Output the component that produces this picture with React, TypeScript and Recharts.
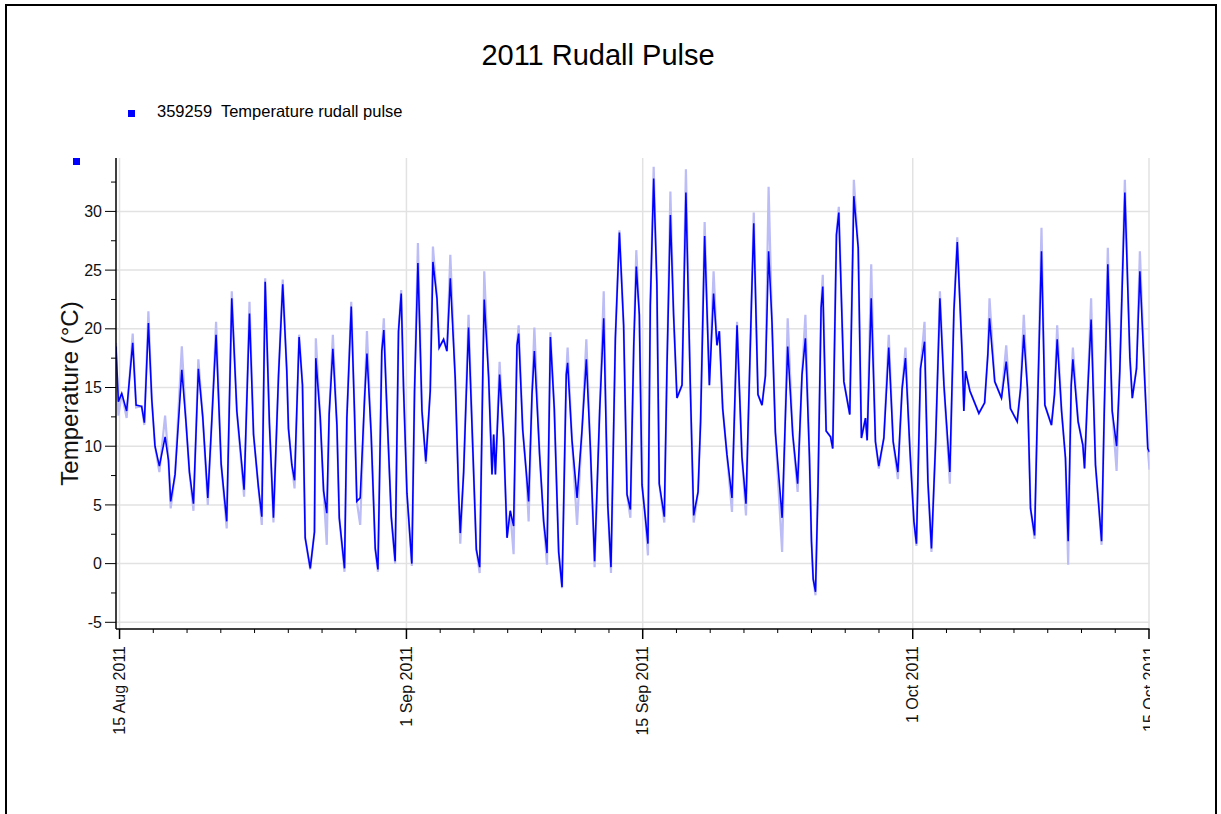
import React from "react";
import { LineChart, Line, XAxis, YAxis, CartesianGrid, Legend } from "recharts";

const FONT = '"Liberation Sans", Arial, Helvetica, sans-serif';

// time in days since 15 Aug 2011 00:00
const times = [
  -0.21, -0.07, 0.13, 0.42, 0.78, 0.98, 1.31, 1.47, 1.71, 1.91,
  2.1, 2.36, 2.7, 2.9, 3.03, 3.29, 3.69, 3.94, 4.14, 4.38,
  4.67, 4.93, 5.23, 5.46, 5.72, 6.02, 6.35, 6.65, 6.95, 7.38,
  7.7, 7.94, 8.23, 8.43, 8.63, 8.88, 9.12, 9.42, 9.67, 9.91,
  10.01, 10.21, 10.37, 10.64, 10.84, 11.0, 11.3, 11.55, 11.63, 11.89,
  12.09, 12.28, 12.42, 12.64, 12.88, 13.02, 13.33, 13.47, 13.73, 13.92,
  14.06, 14.26, 14.52, 14.66, 14.91, 15.15, 15.31, 15.54, 15.66, 15.84,
  16.1, 16.33, 16.53, 16.69, 16.83, 17.03, 17.32, 17.48, 17.68, 17.92,
  18.15, 18.41, 18.57, 18.81, 18.94, 19.2, 19.4, 19.6, 19.89, 20.09,
  20.19, 20.39, 20.68, 20.94, 21.14, 21.34, 21.53, 21.61, 21.87, 22.07,
  22.17, 22.27, 22.52, 22.76, 22.96, 23.15, 23.35, 23.55, 23.65, 23.89,
  24.1, 24.24, 24.44, 24.58, 24.89, 25.13, 25.33, 25.53, 25.76, 26.02,
  26.22, 26.47, 26.55, 26.81, 27.11, 27.4, 27.66, 27.9, 28.15, 28.45,
  28.69, 28.93, 29.12, 29.38, 29.62, 29.87, 30.07, 30.27, 30.47, 30.62,
  30.8, 30.96, 31.15, 31.31, 31.45, 31.65, 31.84, 31.98, 32.28, 32.44,
  32.64, 32.83, 33.03, 33.33, 33.56, 33.82, 34.02, 34.28, 34.43, 34.67,
  34.95, 35.2, 35.4, 35.54, 35.74, 35.99, 36.29, 36.59, 36.88, 37.12,
  37.44, 37.58, 37.83, 38.07, 38.27, 38.46, 38.66, 38.86, 39.26, 39.59,
  39.89, 40.18, 40.44, 40.64, 40.88, 41.0, 41.1, 41.24, 41.39, 41.57,
  41.67, 41.87, 42.13, 42.26, 42.48, 42.62, 42.92, 43.27, 43.51, 43.77,
  43.96, 44.2, 44.3, 44.54, 44.79, 44.99, 45.29, 45.58, 45.84, 46.12,
  46.37, 46.57, 46.83, 47.07, 47.22, 47.46, 47.7, 47.9, 48.11, 48.35,
  48.61, 48.85, 49.2, 49.44, 49.64, 49.93, 50.03, 50.13, 50.39, 50.92,
  51.26, 51.45, 51.55, 51.86, 52.26, 52.54, 52.79, 53.19, 53.39, 53.58,
  53.8, 53.98, 54.22, 54.37, 54.63, 54.83, 55.22, 55.4, 55.56, 55.82,
  56.05, 56.21, 56.39, 56.49, 56.8, 57.08, 57.18, 57.34, 57.57, 57.83,
  58.03, 58.19, 58.35, 58.56, 58.82, 59.08, 59.27, 59.57, 59.87, 60.01,
  60.26, 60.46, 60.76, 60.93, 61.03,
];

// 359259 Temperature rudall pulse (°C)
const temps = [
  18.5, 13.8, 14.5, 13.0, 18.8, 13.5, 13.4, 12.0, 20.5, 14.0,
  10.0, 8.3, 10.8, 8.8, 5.3, 7.6, 16.5, 12.0, 7.8, 5.1,
  16.6, 12.5, 5.6, 12.0, 19.5, 8.5, 3.6, 22.6, 13.0, 6.3,
  21.3, 11.0, 6.5, 4.0, 24.0, 12.0, 3.9, 16.0, 23.8, 16.4,
  11.5, 8.4, 7.1, 19.3, 15.2, 2.2, -0.4, 2.7, 17.5, 12.5,
  6.2, 4.3, 12.7, 18.3, 11.8, 3.9, -0.4, 12.4, 21.9, 13.0,
  5.3, 5.6, 14.1, 17.9, 11.0, 1.3, -0.5, 18.1, 19.9, 13.2,
  4.0, 0.2, 19.8, 23.0, 14.9, 6.0, 0.0, 14.7, 25.6, 13.0,
  8.7, 14.7, 25.7, 22.6, 18.4, 19.1, 18.1, 24.3, 15.8, 6.1,
  2.6, 7.8, 20.1, 9.5, 1.2, -0.3, 16.6, 22.5, 15.9, 7.6,
  11.0, 7.6, 16.1, 10.7, 2.2, 4.5, 3.2, 18.6, 19.6, 11.4,
  7.8, 5.3, 14.4, 18.1, 9.3, 3.6, 0.9, 19.3, 13.2, 1.0,
  -2.0, 16.1, 17.1, 10.5, 5.6, 11.3, 17.4, 9.8, 0.2, 13.0,
  20.9, 5.0, -0.3, 19.2, 28.2, 20.3, 5.9, 4.6, 18.6, 25.3,
  21.2, 6.7, 4.0, 1.7, 22.0, 32.8, 23.8, 6.8, 4.0, 16.9,
  29.7, 21.2, 14.1, 15.2, 31.6, 15.2, 4.1, 6.1, 12.1, 27.9,
  15.2, 23.0, 18.6, 19.8, 13.2, 9.3, 5.6, 20.3, 9.1, 5.1,
  22.0, 29.0, 14.4, 13.5, 16.0, 26.6, 20.6, 11.2, 3.9, 18.5,
  11.0, 6.8, 16.1, 19.2, 9.1, 1.9, -1.3, -2.4, 6.7, 21.8,
  23.6, 11.3, 10.8, 9.8, 28.0, 29.9, 15.5, 12.7, 31.3, 26.9,
  10.7, 12.4, 10.5, 22.6, 10.4, 8.3, 10.7, 18.4, 10.4, 7.8,
  14.9, 17.5, 9.8, 3.6, 1.7, 16.6, 18.9, 7.0, 1.3, 10.1,
  22.6, 15.2, 7.8, 21.5, 27.4, 17.8, 13.0, 16.4, 14.7, 12.8,
  13.7, 17.8, 20.9, 15.5, 14.1, 17.2, 13.2, 12.1, 14.9, 19.5,
  14.9, 4.7, 2.4, 11.8, 26.6, 13.5, 11.8, 14.4, 19.1, 13.0,
  9.0, 1.9, 15.2, 17.4, 12.1, 10.1, 8.1, 13.8, 20.8, 8.4,
  4.8, 1.9, 13.0, 25.5, 13.0, 10.0, 16.4, 31.6, 17.5, 14.1,
  16.6, 24.9, 15.2, 9.8, 9.5,
];

// the pale trace behind it (sub-hourly readings, reaching further at the extremes)
const tempsRaw = [
  18.8, 12.6, 14.5, 12.4, 19.6, 13.3, 13.4, 11.8, 21.5, 14.0,
  10.0, 7.8, 12.6, 8.8, 4.7, 7.6, 18.5, 12.0, 7.8, 4.5,
  17.4, 12.5, 5.0, 12.0, 20.6, 8.5, 3.0, 23.2, 13.0, 5.7,
  22.3, 11.0, 6.5, 3.3, 24.3, 12.0, 3.5, 16.0, 24.2, 16.4,
  11.5, 8.4, 6.4, 19.5, 15.2, 2.2, -0.5, 2.7, 19.2, 12.5,
  6.2, 1.6, 12.7, 19.5, 11.8, 3.9, -0.7, 12.4, 22.3, 13.0,
  5.3, 3.3, 14.1, 19.8, 11.0, 1.3, -0.7, 18.1, 20.9, 13.2,
  4.0, 0.0, 19.8, 23.3, 14.9, 6.0, -0.2, 14.7, 27.3, 13.0,
  8.5, 14.7, 27.0, 22.6, 18.4, 19.1, 18.1, 26.3, 15.8, 6.1,
  1.7, 7.8, 21.2, 9.5, 1.2, -0.8, 16.6, 24.9, 15.9, 7.6,
  11.0, 7.6, 17.2, 10.7, 2.2, 4.5, 0.8, 18.6, 20.3, 11.4,
  7.8, 3.6, 14.4, 20.1, 9.3, 3.6, -0.1, 19.7, 13.2, 1.0,
  -2.1, 16.1, 18.4, 10.5, 3.3, 11.3, 19.1, 9.8, -0.3, 13.0,
  23.2, 5.0, -0.8, 19.2, 28.4, 20.3, 5.9, 3.9, 18.6, 26.7,
  21.2, 6.7, 4.0, 0.7, 22.0, 33.8, 23.8, 6.8, 3.5, 16.9,
  31.7, 21.2, 14.1, 15.2, 33.6, 15.2, 3.5, 6.1, 12.1, 29.1,
  15.2, 24.9, 18.6, 19.8, 13.2, 9.3, 4.4, 20.6, 9.1, 4.1,
  22.0, 29.9, 14.4, 13.5, 16.0, 32.1, 20.6, 11.2, 1.0, 20.9,
  11.0, 6.1, 16.1, 21.2, 9.1, 1.9, -1.3, -2.7, 6.7, 21.8,
  24.6, 11.3, 10.8, 9.8, 28.0, 30.4, 15.5, 12.7, 32.7, 26.9,
  10.7, 12.4, 10.5, 25.5, 10.4, 8.1, 10.7, 19.5, 10.4, 7.2,
  14.9, 18.4, 9.8, 3.6, 1.5, 16.6, 20.6, 7.0, 1.0, 10.1,
  23.2, 15.2, 6.8, 21.5, 27.8, 17.8, 13.0, 16.4, 14.7, 12.8,
  13.7, 17.8, 22.6, 15.5, 14.1, 18.6, 13.2, 12.1, 14.9, 21.2,
  14.9, 4.7, 2.1, 11.8, 28.6, 13.5, 11.8, 14.4, 20.3, 13.0,
  9.0, -0.1, 15.2, 18.4, 12.1, 10.1, 8.1, 13.8, 22.6, 8.4,
  4.8, 1.6, 13.0, 26.9, 13.0, 7.9, 16.4, 32.7, 17.5, 14.1,
  16.6, 26.6, 15.2, 9.8, 8.0,
];

const majorDays = [0, 17, 31, 47, 61];
const majorLabels = ["15 Aug 2011", "1 Sep 2011", "15 Sep 2011", "1 Oct 2011", "15 Oct 2011"];
const minorDays = [
  2, 4, 6, 8, 10, 12, 14, 19, 21, 23, 25, 27, 29,
  33, 35, 37, 39, 41, 43, 45, 49, 51, 53, 55, 57, 59,
];
const xTicks = [...majorDays, ...minorDays].sort((a, b) => a - b);

const yMajor = [-5, 0, 5, 10, 15, 20, 25, 30];
const yMinor = [-2.5, 2.5, 7.5, 12.5, 17.5, 22.5, 27.5, 32.5];
const yTicks = [...yMajor, ...yMinor].sort((a, b) => a - b);

const data = times.map((t, i) => ({ t, temp: temps[i], raw: tempsRaw[i] }));

const XTick = (props: any) => {
  const { x, y, payload } = props;
  const i = majorDays.indexOf(payload.value);
  if (i < 0) {
    return <line x1={x} x2={x} y1={y} y2={y + 4} stroke="#000" strokeWidth={1} />;
  }
  return (
    <g>
      <line x1={x} x2={x} y1={y} y2={y + 10} stroke="#000" strokeWidth={1.5} />
      <text
        transform={`translate(${x},${y + 17}) rotate(-90)`}
        textAnchor="end"
        dy="0.35em"
        fontSize={16}
        fontFamily={FONT}
        fill="#111"
      >
        {majorLabels[i]}
      </text>
    </g>
  );
};

const YTick = (props: any) => {
  const { x, y, payload } = props;
  const major = yMajor.includes(payload.value);
  return (
    <g>
      <line x1={x - (major ? 11 : 5)} x2={x} y1={y} y2={y} stroke="#000" strokeWidth={1} />
      {major && (
        <text x={x - 14} y={y} dy="0.35em" textAnchor="end" fontSize={16} fontFamily={FONT} fill="#111">
          {payload.value}
        </text>
      )}
    </g>
  );
};

const LegendBox = () => (
  <div style={{ display: "flex", alignItems: "center", fontFamily: FONT, fontSize: 16.5, color: "#000", lineHeight: "18px" }}>
    <span style={{ display: "inline-block", width: 7, height: 7, background: "#0000ff", marginTop: 4, marginRight: 22 }} />
    <span style={{ whiteSpace: "pre" }}>359259  Temperature rudall pulse</span>
  </div>
);

export default function App() {
  return (
    <div style={{ position: "absolute", left: 0, top: 0, width: 1221, height: 814, overflow: "hidden", background: "#fff" }}>
      <div
        style={{
          position: "absolute",
          left: 5,
          top: 4,
          width: 1212,
          height: 900,
          border: "2px solid #000",
          boxSizing: "border-box",
        }}
      />
      <div
        style={{
          position: "absolute",
          left: 398,
          top: 41,
          width: 400,
          textAlign: "center",
          fontFamily: FONT,
          fontSize: 29,
          lineHeight: "29px",
          color: "#000",
        }}
      >
        2011 Rudall Pulse
      </div>
      <div style={{ position: "absolute", left: 73, top: 158, width: 7, height: 7, background: "#0000ff" }} />
      <div style={{ position: "absolute", left: 0, top: 0 }}>
        <LineChart width={1150} height={760} data={data} margin={{ top: 158, right: 0.5, bottom: 91, left: 22 }}>
          <CartesianGrid
            stroke="#e2e2e2"
            strokeWidth={1.5}
            horizontalValues={yMajor}
            verticalValues={majorDays}
          />
          <XAxis
            dataKey="t"
            type="number"
            domain={[-0.21, 61.03]}
            allowDataOverflow
            ticks={xTicks}
            interval={0}
            tickSize={0}
            tickMargin={0}
            tickLine={false}
            tick={<XTick />}
            height={40}
            axisLine={{ stroke: "#000", strokeWidth: 1.5 }}
          />
          <YAxis
            type="number"
            domain={[-5.57, 34.55]}
            allowDataOverflow
            ticks={yTicks}
            interval={0}
            tickSize={0}
            tickMargin={0}
            tickLine={false}
            tick={<YTick />}
            width={94}
            axisLine={{ stroke: "#000", strokeWidth: 1.5 }}
            label={{
              value: "Temperature (°C)",
              angle: -90,
              position: "center",
              fontSize: 24,
              fontFamily: FONT,
              fill: "#111",
            }}
          />
          <Legend
            layout="vertical"
            align="center"
            verticalAlign="middle"
            wrapperStyle={{ left: 128, top: 102, width: "auto" }}
            content={() => <LegendBox />}
          />
          <Line
            dataKey="raw"
            type="linear"
            stroke="#bcbcf6"
            strokeWidth={2.2}
            dot={false}
            activeDot={false}
            legendType="none"
            isAnimationActive={false}
          />
          <Line
            dataKey="temp"
            type="linear"
            stroke="#0000ff"
            strokeWidth={1.6}
            dot={false}
            activeDot={false}
            isAnimationActive={false}
          />
        </LineChart>
      </div>
    </div>
  );
}
